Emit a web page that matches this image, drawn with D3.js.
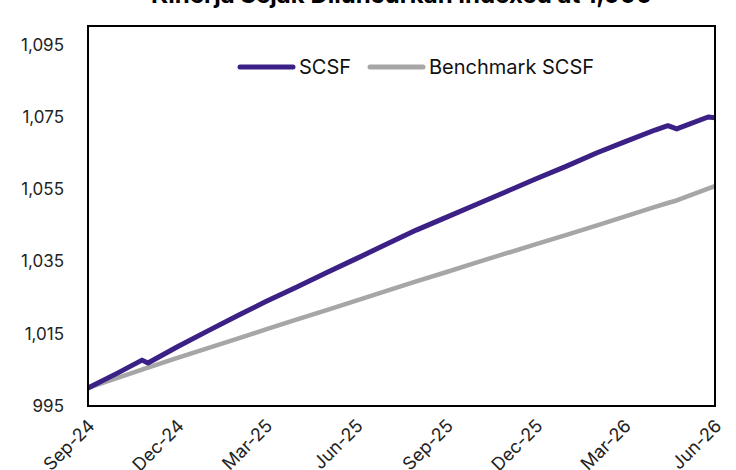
<!DOCTYPE html>
<html>
<head>
<meta charset="utf-8">
<script src="https://cdn.jsdelivr.net/npm/d3@7"></script>
<style>
  body { margin: 0; background: #fff; }
  text { font-family: Inter, "Noto Sans", sans-serif; }
</style>
</head>
<body>
<div id="chart"></div>
<script>
// Chart data
const dates = [
  "2024-09-01", "2024-10-01", "2024-10-26", "2024-11-01", "2024-12-01",
  "2025-01-01", "2025-02-01", "2025-03-01", "2025-04-01", "2025-05-01",
  "2025-06-01", "2025-07-01", "2025-08-01", "2025-09-01", "2025-10-01",
  "2025-11-01", "2025-12-01", "2026-01-01", "2026-02-01", "2026-03-01",
  "2026-04-01", "2026-04-14", "2026-04-23", "2026-05-25", "2026-06-01"
];
const scsf = [
  1000.0, 1004.1, 1007.7, 1006.9, 1011.4,
  1015.8, 1020.1, 1023.9, 1027.9, 1031.8,
  1035.8, 1039.7, 1043.7, 1047.3, 1050.8,
  1054.4, 1057.9, 1061.4, 1065.1, 1068.1,
  1071.4, 1072.6, 1071.7, 1075.0, 1074.8
];
const benchmark = [
  1000.0, 1002.8, 1005.1, 1005.6, 1008.3,
  1011.0, 1013.7, 1016.2, 1018.9, 1021.5,
  1024.2, 1026.8, 1029.5, 1032.1, 1034.7,
  1037.3, 1039.8, 1042.4, 1045.0, 1047.4,
  1050.1, 1051.2, 1051.9, 1055.2, 1055.9
];
const xTicks = ["2024-09-01", "2024-12-01", "2025-03-01", "2025-06-01",
  "2025-09-01", "2025-12-01", "2026-03-01", "2026-06-01"];
const yTicks = [995, 1015, 1035, 1055, 1075, 1095];
const seriesNames = ["SCSF", "Benchmark SCSF"];
const seriesColors = ["#3b2185", "#a6a6a6"];

// Layout
const W = 736, H = 470;
const margin = { top: 26, right: 21, bottom: 64, left: 88 };
const width = W - margin.left - margin.right;
const height = H - margin.top - margin.bottom;

const parse = d3.timeParse("%Y-%m-%d");
const fmtX = d3.timeFormat("%b-%y");
const fmtY = d3.format(",");

const svg = d3.select("#chart").append("svg")
  .attr("width", W).attr("height", H);

// Title (the reference shows it clipped by the top edge)
svg.append("text")
  .attr("x", margin.left + width / 2)
  .attr("y", 3)
  .attr("text-anchor", "middle")
  .style("font-size", "24px")
  .style("font-weight", "bold")
  .text("Kinerja Sejak Diluncurkan Indexed at 1,000");

const g = svg.append("g")
  .attr("transform", `translate(${margin.left},${margin.top})`);

const x = d3.scaleTime()
  .domain([parse(dates[0]), parse(dates[dates.length - 1])])
  .range([0, width]);
const y = d3.scaleLinear().domain([995, 1100.2]).range([height, 0]);

// Lines
const rows = dates.map((d, i) => ({ date: parse(d), s: scsf[i], b: benchmark[i] }));
const lineB = d3.line().x(d => x(d.date)).y(d => y(d.b));
const lineS = d3.line().x(d => x(d.date)).y(d => y(d.s));

g.append("path").datum(rows)
  .attr("fill", "none").attr("stroke", seriesColors[1])
  .attr("stroke-width", 4.5).attr("stroke-linejoin", "round")
  .attr("d", lineB);
g.append("path").datum(rows)
  .attr("fill", "none").attr("stroke", seriesColors[0])
  .attr("stroke-width", 5).attr("stroke-linejoin", "round")
  .attr("d", lineS);

// Plot frame
g.append("rect")
  .attr("width", width).attr("height", height)
  .attr("fill", "none").attr("stroke", "#000").attr("stroke-width", 2);

// Y axis
const yAxis = g.append("g")
  .call(d3.axisLeft(y).tickValues(yTicks).tickFormat(fmtY).tickSize(0).tickPadding(24));
yAxis.select(".domain").remove();
yAxis.selectAll("text").style("font-size", "17px").attr("fill", "#222");

// X axis
const xAxis = g.append("g")
  .attr("transform", `translate(0,${height})`)
  .call(d3.axisBottom(x).tickValues(xTicks.map(parse)).tickFormat(fmtX).tickSize(0));
xAxis.select(".domain").remove();
xAxis.selectAll("text")
  .style("font-size", "18px").attr("fill", "#222")
  .attr("text-anchor", "end")
  .attr("dy", 0)
  .attr("transform", "translate(5,19) rotate(-45)");

// Legend
const legend = svg.append("g").attr("transform", "translate(240,67)");
const legendX = [0, 130];
seriesNames.forEach((name, i) => {
  const item = legend.append("g").attr("transform", `translate(${legendX[i]},0)`);
  item.append("line")
    .attr("x1", 0).attr("x2", 53)
    .attr("stroke", seriesColors[i]).attr("stroke-width", 5)
    .attr("stroke-linecap", "round");
  item.append("text")
    .attr("x", 59).attr("dy", "0.36em")
    .style("font-size", "20px").attr("fill", "#111")
    .text(name);
});
</script>
</body>
</html>
